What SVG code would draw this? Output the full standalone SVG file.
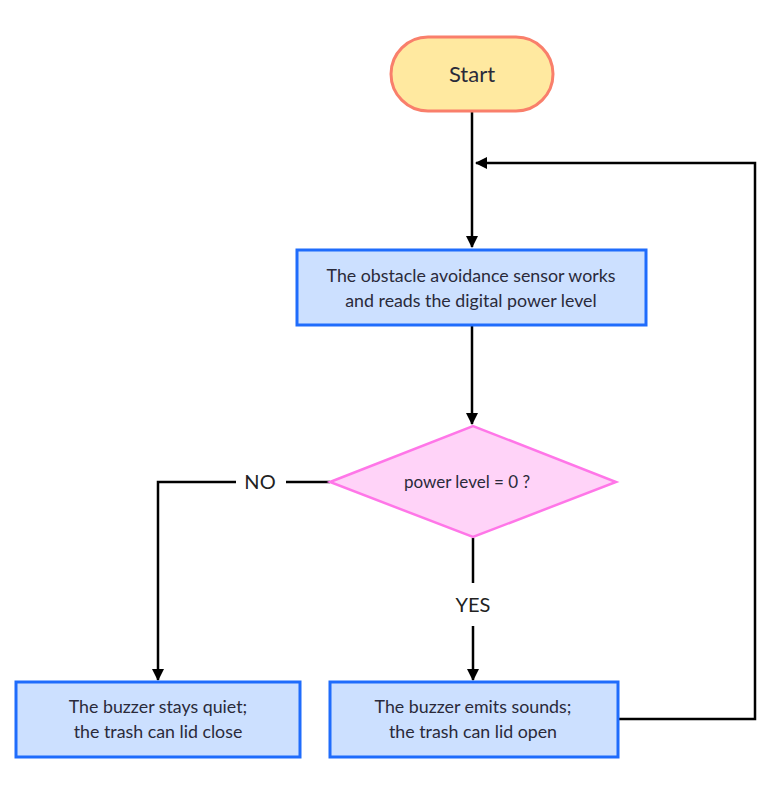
<svg xmlns="http://www.w3.org/2000/svg" width="782" height="800" viewBox="0 0 782 800">
<defs>
<marker id="arr" markerWidth="12" markerHeight="12" refX="11" refY="6" orient="auto" markerUnits="userSpaceOnUse">
<path d="M0,0 L12,6 L0,12 Z" fill="#000"/>
</marker>
<style>
.t{font-family:"Source Sans Pro","Lato","Noto Sans",sans-serif;fill:#2a2a3a;text-anchor:middle;dominant-baseline:central}
.box{fill:#cce0ff;stroke:#1f6cfc;stroke-width:3}
.c{fill:none;stroke:#000;stroke-width:2.5}
.lbl{font-family:"Source Sans Pro","Lato","Noto Sans",sans-serif;fill:#222;text-anchor:middle;dominant-baseline:central;font-size:20px}
</style>
</defs>
<rect width="782" height="800" fill="#fff"/>
<g id="connectors">
<path class="c" d="M472,112 L472,247" marker-end="url(#arr)"/>
<path class="c" d="M472,326 L472,424" marker-end="url(#arr)"/>
<path class="c" d="M330,482 L286,482"/>
<path class="c" d="M236,482 L158,482 L158,680" marker-end="url(#arr)"/>
<path class="c" d="M473,538 L473,583"/>
<path class="c" d="M473,626 L473,680" marker-end="url(#arr)"/>
<path class="c" d="M619,719 L755,719 L755,163 L476,163" marker-end="url(#arr)"/>
<text class="lbl" x="260" y="481">NO</text>
<text class="lbl" x="473" y="604">YES</text>
</g>
<g id="start">
<rect x="391" y="37" width="162" height="74" rx="37" fill="#ffe9a0" stroke="#f97f6b" stroke-width="3"/>
<text class="t" x="472" y="73" font-size="22">Start</text>
</g>
<g id="sensor">
<rect class="box" x="297" y="250" width="349" height="75"/>
<text class="t" x="471" y="275" font-size="17.8">The obstacle avoidance sensor works</text>
<text class="t" x="471" y="300" font-size="17.8">and reads the digital power level</text>
</g>
<g id="decision">
<polygon points="330,482 473,426 616,482 473,537" fill="#ffd3f8" stroke="#ff76e8" stroke-width="2.5"/>
<text class="t" x="467" y="481" font-size="17">power level = 0 ?</text>
</g>
<g id="quiet">
<rect class="box" x="16" y="682" width="284" height="75"/>
<text class="t" x="158" y="706" font-size="17.8">The buzzer stays quiet;</text>
<text class="t" x="158" y="731" font-size="17.8">the trash can lid close</text>
</g>
<g id="sound">
<rect class="box" x="330" y="682" width="288" height="75"/>
<text class="t" x="473" y="706" font-size="17.8">The buzzer emits sounds;</text>
<text class="t" x="473" y="731" font-size="17.8">the trash can lid open</text>
</g>
</svg>
